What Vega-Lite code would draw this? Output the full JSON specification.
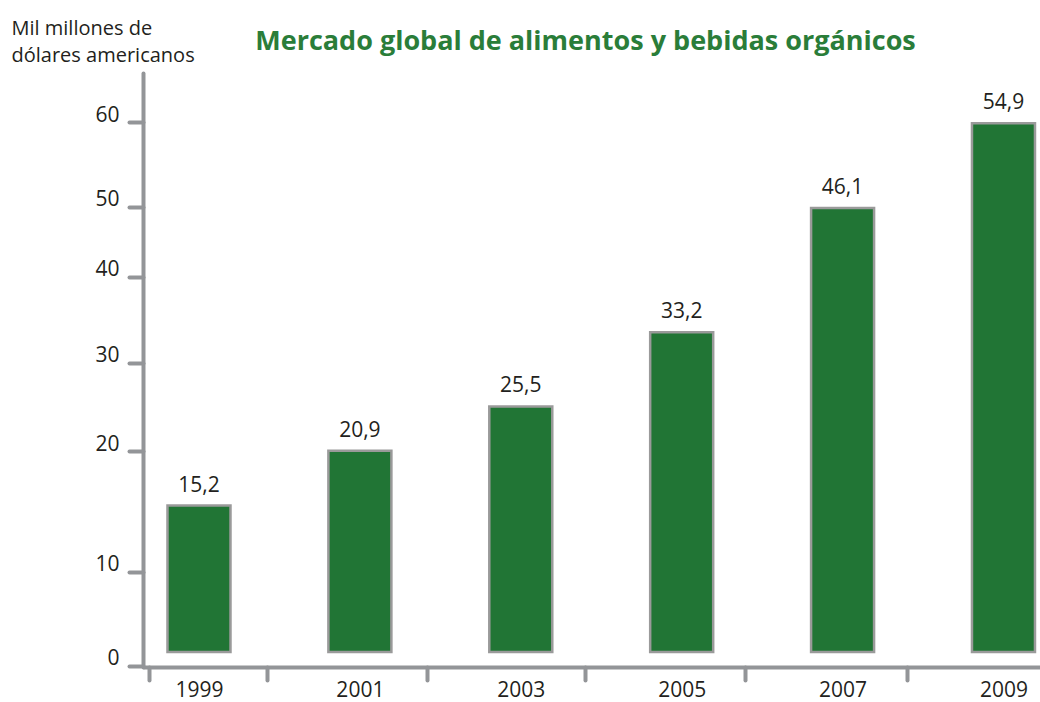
{
  "$schema": "https://vega.github.io/schema/vega-lite/v6.json",
  "width": 897,
  "height": 594,
  "autosize": {"type": "none"},
  "padding": {"left": 143, "top": 73, "right": 0, "bottom": 35},
  "background": "white",
  "config": {"view": {"stroke": null}, "font": "Open Sans"},
  "title": {
    "text": "Mercado global de alimentos y bebidas orgánicos",
    "font": "Open Sans",
    "fontSize": 27,
    "fontWeight": "bold",
    "color": "#2a7d39",
    "anchor": "middle",
    "frame": "group",
    "baseline": "alphabetic",
    "offset": -59,
    "dx": -6
  },
  "data": {
    "values": [
      {"year": 1999, "value": 15.2, "label": "15,2"},
      {"year": 2001, "value": 20.9, "label": "20,9"},
      {"year": 2003, "value": 25.5, "label": "25,5"},
      {"year": 2005, "value": 33.2, "label": "33,2"},
      {"year": 2007, "value": 46.1, "label": "46,1"},
      {"year": 2009, "value": 54.9, "label": "54,9"}
    ]
  },
  "resolve": {"axis": {"x": "independent"}},
  "layer": [
    {
      "mark": {"type": "bar", "size": 63, "fill": "#217535", "stroke": "#9a9a9a", "strokeWidth": 2.5},
      "encoding": {
        "x": {
          "field": "year",
          "type": "quantitative",
          "scale": {"domain": [1998.304, 2009.454], "nice": false, "zero": false, "padding": 0},
          "axis": {
            "orient": "bottom",
            "values": [1998.379, 1999.845, 2001.834, 2003.798, 2005.787, 2007.801],
            "labels": false,
            "title": null,
            "grid": false,
            "domainColor": "#939598",
            "domainWidth": 4,
            "tickColor": "#939598",
            "tickWidth": 4,
            "tickSize": 13,
            "tickCap": "round"
          }
        },
        "y": {
          "field": "value",
          "type": "quantitative",
          "scale": {"domain": [-1.558, 60.12], "nice": false, "zero": false, "padding": 0},
          "axis": {
            "values": [55.03, 46.21, 38.94, 30.01, 20.87, 8.31, -1.45],
            "labelExpr": "'' + (round(datum.value / 10) * 10 + 0)",
            "labelOffset": -7,
            "grid": false,
            "domainColor": "#939598",
            "domainWidth": 4,
            "domainCap": "round",
            "tickColor": "#939598",
            "tickWidth": 4,
            "tickSize": 14,
            "tickCap": "round",
            "labelFontSize": 21,
            "labelColor": "#231f20",
            "labelPadding": 10,
            "labelOverlap": false,
            "labelBound": false,
            "title": ["Mil millones de", "dólares americanos"],
            "titleAngle": 0,
            "titleAlign": "left",
            "titleBaseline": "top",
            "titleX": -132,
            "titleY": -55,
            "titleFontSize": 20,
            "titleFontWeight": "normal",
            "titleColor": "#231f20",
            "titleLineHeight": 27
          }
        },
        "y2": {"datum": 0}
      }
    },
    {
      "mark": {"type": "text", "dy": -14, "baseline": "alphabetic", "fontSize": 21, "color": "#231f20"},
      "encoding": {
        "x": {
          "field": "year",
          "type": "quantitative",
          "scale": {"domain": [1998.304, 2009.454], "nice": false, "zero": false, "padding": 0},
          "axis": {
            "orient": "bottom",
            "values": [1999, 2001, 2003, 2005, 2007, 2009],
            "format": "d",
            "title": null,
            "grid": false,
            "domain": false,
            "ticks": false,
            "tickSize": 0,
            "labelFontSize": 21,
            "labelColor": "#231f20",
            "labelPadding": 12,
            "labelOverlap": false,
            "labelBound": false,
            "labelFlush": false
          }
        },
        "y": {"field": "value", "type": "quantitative"},
        "text": {"field": "label"}
      }
    }
  ]
}
